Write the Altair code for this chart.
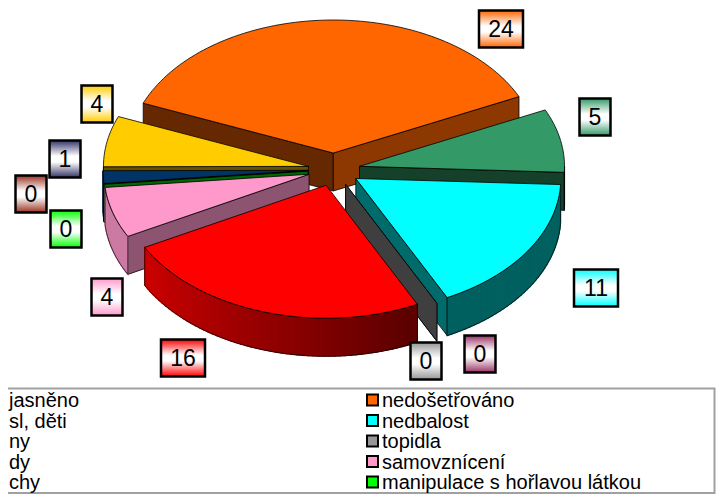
import math
import altair as alt

# ---- chart values (clockwise from the top of the pie) ----
SLICE_KEYS = ["orange", "green", "cyan", "gray", "purple", "red", "pink", "lime", "brown", "navy", "yellow"]
VALUES = [24, 5, 11, 0, 0, 16, 4, 0, 0, 1, 4]
COLORS = ["#FF6600", "#339966", "#00FFFF", "#969696", "#993366", "#FF0000",
          "#FF99CC", "#00FF00", "#993300", "#003366", "#FFCC00"]
LEGEND_RIGHT = ["nedošetřováno", "nedbalost", "topidla", "samovznícení", "manipulace s hořlavou látkou"]
LEGEND_RIGHT_KEYS = ["orange", "cyan", "gray", "pink", "lime"]
LEGEND_LEFT = ["jasněno", "sl, děti", "ny", "dy", "chy"]

# ---- layout (reference-page pixels) ----
OX, OY = 8, 8
CX, CY, RX, RY, DEPTH = 334.0, 169.5, 205.0, 133.0, 38.0
EXPLODE_X, EXPLODE_Y = 26.0, 16.5
START = -68.0
DRAW_ORDER = ["orange", "green", "yellow", "navy", "brown", "lime", "pink", "cyan", "purple", "gray", "red"]
LABEL_POS = {"orange": (501, 29), "green": (595, 117), "cyan": (596, 288), "purple": (480, 354),
             "gray": (426, 361), "red": (183, 358), "pink": (107, 297), "lime": (66, 229),
             "brown": (31, 194), "navy": (65, 159), "yellow": (97, 104)}
LABEL_TINT = {"navy": "#333366", "brown": "#993322"}
LEGEND_ROWS = [400, 420.5, 441, 461.5, 482]
LEFT_START = 9

COLOR = dict(zip(SLICE_KEYS, COLORS))


def shade(hex_color, f):
    r, g, b = (int(hex_color[i:i + 2], 16) for i in (1, 3, 5))
    return "#%02x%02x%02x" % (int(r * f), int(g * f), int(b * f))


def outer_shade(theta):
    t = theta % 360
    if t < 155:
        return 0.38
    if t > 240:
        return 0.8
    return 0.36 + (t - 155) / 85 * 0.44


def feature(ring, fill, stroke, width):
    return {"type": "Feature",
            "geometry": {"type": "Polygon", "coordinates": [[list(p) for p in ring + ring[:1]]]},
            "properties": {"fill": fill, "stroke": stroke, "sw": width}}


total = sum(VALUES)
angles = {}
a = START
for key, v in zip(SLICE_KEYS, VALUES):
    angles[key] = (a, a + v / total * 360)
    a += v / total * 360

features = []
for key in DRAW_ORDER:
    t1, t2 = angles[key]
    mid = math.radians((t1 + t2) / 2)
    cx = CX + EXPLODE_X * math.sin(mid)
    cy = CY - EXPLODE_Y * math.cos(mid)

    def rim(t, dy=0.0):
        r = math.radians(t)
        return (cx + RX * math.sin(r), cy - RY * math.cos(r) + dy)

    base = COLOR[key]
    s1, s2 = math.sin(math.radians(t1)), math.sin(math.radians(t2))
    # radial end faces that look towards the viewer
    if s1 < 0:
        f = 0.55 if (t1 % 360) < 250 else 0.4
        features.append(feature([(cx, cy), rim(t1), rim(t1, DEPTH), (cx, cy + DEPTH)], shade(base, f), "#000000", 0.8))
    if s2 > 0:
        f = 0.55 if (t2 % 360) < 80 else 0.42
        features.append(feature([(cx, cy), rim(t2), rim(t2, DEPTH), (cx, cy + DEPTH)], shade(base, f), "#000000", 0.8))
    # outer curved wall
    lo, hi = max(t1, 90.0), min(t2, 270.0)
    if hi > lo:
        n = max(1, int((hi - lo) / 1.5))
        ts = [lo + (hi - lo) * i / n for i in range(n + 1)]
        for u, w in zip(ts[:-1], ts[1:]):
            col = shade(base, outer_shade((u + w) / 2))
            features.append(feature([rim(u), rim(w), rim(w, DEPTH), rim(u, DEPTH)], col, col, 1.2))
        outline = [rim(t) for t in ts] + [rim(t, DEPTH) for t in reversed(ts)]
        features.append(feature(outline, "transparent", "#000000", 0.7))
    # top face
    if t2 > t1:
        n = max(2, int((t2 - t1) / 1.5))
        arc = [rim(t1 + (t2 - t1) * i / n) for i in range(n + 1)]
        features.append(feature([(cx, cy)] + arc, base, "#000000", 0.8))

pie = (alt.Chart(alt.Data(values=features))
       .mark_geoshape()
       .encode(fill=alt.Fill("properties.fill:N", scale=None),
               stroke=alt.Stroke("properties.stroke:N", scale=None),
               strokeWidth=alt.StrokeWidth("properties.sw:Q", scale=None))
       .project(type="identity", scale=1, translate=[-OX, -OY]))

FONT = "Liberation Sans"
one = alt.Data(values=[{"v": 0}])
layers = []

# legend frame
layers.append(alt.Chart(one).mark_rect(fill="white", stroke="#a0a0a0", strokeWidth=2).encode(
    x=alt.value(-6), x2=alt.value(714.5 - OX), y=alt.value(388.5 - OY), y2=alt.value(493 - OY)))
layers.append(pie)

# value labels
for key, v in zip(SLICE_KEYS, VALUES):
    lx, ly = LABEL_POS[key]
    half = 22 if v >= 10 else 15.5
    tint = LABEL_TINT.get(key, COLOR[key])
    grad = alt.LinearGradient(gradient="linear", x1=0, y1=0, x2=0, y2=1,
                              stops=[alt.GradientStop(offset=0, color=tint),
                                     alt.GradientStop(offset=0.42, color="#ffffff"),
                                     alt.GradientStop(offset=0.58, color="#ffffff"),
                                     alt.GradientStop(offset=1, color=tint)])
    row = alt.Data(values=[{"label": str(v)}])
    layers.append(alt.Chart(row).mark_rect(fill=grad, stroke="#000000", strokeWidth=2.5).encode(
        x=alt.value(lx - half - OX), x2=alt.value(lx + half - OX),
        y=alt.value(ly - 18.5 - OY), y2=alt.value(ly + 18.5 - OY)))
    layers.append(alt.Chart(row).mark_text(font=FONT, fontSize=23, color="#000000", align="center",
                                           baseline="middle").encode(
        x=alt.value(lx - OX), y=alt.value(ly - OY + 1), text="label:N"))

# legend rows
for name, key, y in zip(LEGEND_RIGHT, LEGEND_RIGHT_KEYS, LEGEND_ROWS):
    row = alt.Data(values=[{"label": name}])
    layers.append(alt.Chart(row).mark_rect(fill=COLOR[key], stroke="#000000", strokeWidth=2).encode(
        x=alt.value(367 - OX), x2=alt.value(378 - OX), y=alt.value(y - 5.5 - OY), y2=alt.value(y + 5.5 - OY)))
    layers.append(alt.Chart(row).mark_text(font=FONT, fontSize=20, color="#000000", align="left",
                                           baseline="middle").encode(
        x=alt.value(382 - OX), y=alt.value(y - OY + 1), text="label:N"))
for name, y in zip(LEGEND_LEFT, LEGEND_ROWS):
    row = alt.Data(values=[{"label": name}])
    layers.append(alt.Chart(row).mark_text(font=FONT, fontSize=20, color="#000000", align="left",
                                           baseline="middle").encode(
        x=alt.value(LEFT_START - OX), y=alt.value(y - OY + 1), text="label:N"))

chart = (alt.layer(*layers)
         .properties(width=708, height=486, autosize="none", padding=0, background="white")
         .configure_view(stroke=None))
chart.save("out.html", embed_options={"renderer": "svg", "actions": False})
